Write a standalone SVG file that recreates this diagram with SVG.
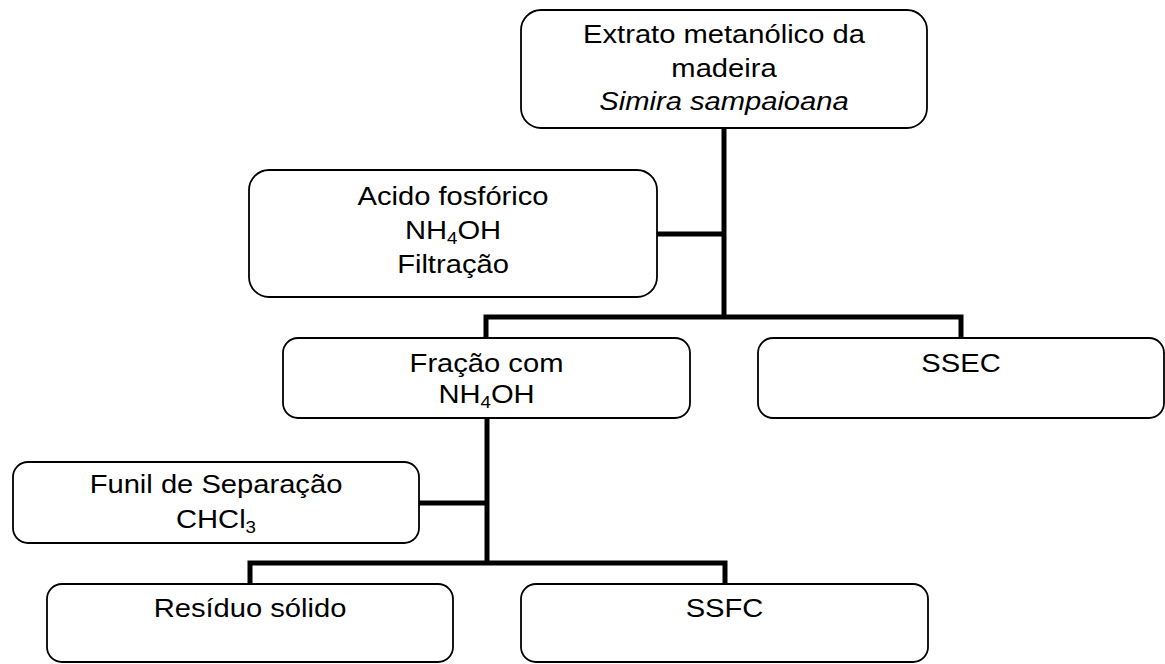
<svg xmlns="http://www.w3.org/2000/svg" width="1165" height="664" viewBox="0 0 1165 664">
  <style>
    .box { fill: #ffffff; stroke: #000000; stroke-width: 1.8; }
    .conn { fill: none; stroke: #000000; stroke-width: 5; stroke-linecap: butt; stroke-linejoin: miter; }
    .lbl { font-family: "Liberation Sans", Arial, sans-serif; font-size: 26.5px; fill: #000000; text-anchor: middle; }
    .sub { font-size: 17px; }
  </style>
  <rect width="1165" height="664" fill="#ffffff"/>

  <!-- connectors -->
  <g id="connectors">
    <path class="conn" d="M724,128 V317"/>
    <path class="conn" d="M657,234 H724"/>
    <path class="conn" d="M486,338 V317 H961 V338"/>
    <path class="conn" d="M487,418 V563"/>
    <path class="conn" d="M419,503 H487"/>
    <path class="conn" d="M250,584 V563 H725 V584"/>
  </g>

  <!-- methanolic extract -->
  <g id="extrato">
    <rect class="box" x="521" y="10" width="406" height="118" rx="20"/>
    <g transform="translate(724,0) scale(1.1,1)">
      <text class="lbl" x="0" y="43">Extrato metanólico da</text>
      <text class="lbl" x="0" y="77">madeira</text>
      <text class="lbl" x="0" y="110" font-style="italic">Simira sampaioana</text>
    </g>
  </g>

  <!-- treatment step -->
  <g id="acido">
    <rect class="box" x="249" y="170" width="408" height="127" rx="20"/>
    <g transform="translate(453,0) scale(1.1,1)">
      <text class="lbl" x="0" y="205">Acido fosfórico</text>
      <text class="lbl" x="0" y="239">NH<tspan class="sub" dy="5">4</tspan><tspan dy="-5">OH</tspan></text>
      <text class="lbl" x="0" y="273">Filtração</text>
    </g>
  </g>

  <!-- ammonia fraction -->
  <g id="fracao">
    <rect class="box" x="283" y="338" width="407" height="80" rx="15"/>
    <g transform="translate(486.5,0) scale(1.1,1)">
      <text class="lbl" x="0" y="372">Fração com</text>
      <text class="lbl" x="0" y="403">NH<tspan class="sub" dy="5">4</tspan><tspan dy="-5">OH</tspan></text>
    </g>
  </g>

  <!-- SSEC -->
  <g id="ssec">
    <rect class="box" x="758" y="338" width="406" height="80" rx="15"/>
    <g transform="translate(961,0) scale(1.1,1)">
      <text class="lbl" x="0" y="372">SSEC</text>
    </g>
  </g>

  <!-- separation funnel -->
  <g id="funil">
    <rect class="box" x="13" y="462" width="406" height="81" rx="15"/>
    <g transform="translate(216,0) scale(1.1,1)">
      <text class="lbl" x="0" y="493">Funil de Separação</text>
      <text class="lbl" x="0" y="528">CHCl<tspan class="sub" dy="5">3</tspan></text>
    </g>
  </g>

  <!-- solid residue -->
  <g id="residuo">
    <rect class="box" x="47" y="584" width="406" height="78" rx="15"/>
    <g transform="translate(250,0) scale(1.1,1)">
      <text class="lbl" x="0" y="617">Resíduo sólido</text>
    </g>
  </g>

  <!-- SSFC -->
  <g id="ssfc">
    <rect class="box" x="521" y="584" width="407" height="78" rx="15"/>
    <g transform="translate(724.5,0) scale(1.1,1)">
      <text class="lbl" x="0" y="617">SSFC</text>
    </g>
  </g>
</svg>
